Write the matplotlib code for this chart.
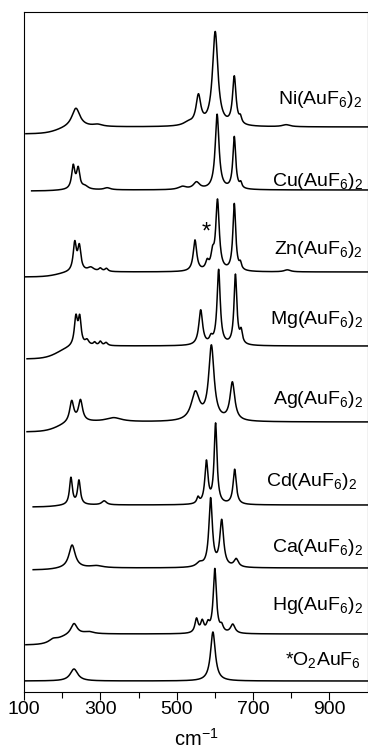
import numpy as np
import matplotlib
matplotlib.use("Agg")
import matplotlib.pyplot as plt

plt.rcParams['font.family'] = ['Liberation Sans', 'DejaVu Sans']
plt.rcParams['mathtext.fontset'] = 'custom'
plt.rcParams['mathtext.rm'] = 'Liberation Sans'
plt.rcParams['mathtext.it'] = 'Liberation Sans:italic'

# Raman bands: (wavenumber cm-1, height, FWHM)
ni_bands = [(236, 19, 26), (293, 2, 30), (530, 3, 30), (557, 29, 15), (601, 94, 17),
            (651, 48, 11), (667, 6, 8), (787, 2, 25)]
cu_bands = [(229, 23, 10), (242, 20, 10), (260, 3, 20), (318, 2, 20), (515, 3, 25),
            (552, 7, 20), (606, 75, 12), (651, 52, 9), (668, 5, 7)]
zn_bands = [(233, 28, 10), (245, 24, 10), (275, 4, 20), (300, 3, 10), (316, 3, 10),
            (548, 31, 11), (580, 8, 10), (594, 14, 10), (607, 70, 11), (651, 67, 9),
            (667, 6, 7), (790, 2, 20)]
mg_bands = [(236, 28, 10), (246, 26, 9), (265, 5, 12), (285, 3, 8), (300, 4, 8),
            (315, 3, 10), (563, 35, 12), (590, 6, 10), (610, 75, 10), (654, 70, 9),
            (669, 12, 8)]
ag_bands = [(225, 21, 13), (248, 21, 13), (335, 4, 50), (549, 28, 26), (591, 74, 17),
            (646, 38, 15)]
cd_bands = [(223, 27, 9), (244, 24, 9), (310, 4, 15), (556, 6, 8), (578, 42, 10),
            (602, 80, 9), (652, 35, 10)]
ca_bands = [(226, 23, 20), (290, 2, 40), (560, 4, 20), (589, 68, 11), (618, 46, 12),
            (656, 8, 14)]
hg_bands = [(176, 3, 25), (231, 11, 20), (270, 2, 30), (552, 14, 10), (567, 11, 10),
            (582, 8, 10), (600, 64, 10), (618, 6, 10), (647, 9, 14)]
o2_bands = [(231, 12, 24), (595, 49, 15)]

all_bands = [ni_bands, cu_bands, zn_bands, mg_bands, ag_bands, cd_bands, ca_bands,
             hg_bands, o2_bands]
labels = ['Ni(AuF$_6$)$_2$', 'Cu(AuF$_6$)$_2$', 'Zn(AuF$_6$)$_2$', 'Mg(AuF$_6$)$_2$',
          'Ag(AuF$_6$)$_2$', 'Cd(AuF$_6$)$_2$', 'Ca(AuF$_6$)$_2$', 'Hg(AuF$_6$)$_2$',
          '*O$_2$AuF$_6$']
offsets = [565, 502, 420, 346, 270, 187, 124, 58, 11]   # vertical stacking
left_drop = [7, 1, 5, 13, 10, 2, 2, 11, 0]              # sagging background at low cm-1
x_start = [105, 120, 100, 108, 108, 124, 124, 105, 100]
label_x = [988, 988, 988, 988, 988, 972, 988, 988, 983]
label_y = [592, 510, 442, 373, 292, 210, 145, 87, 32]


def spectrum(x, bands, base, drop):
    y = base - drop * 0.5 * (1 - np.tanh((x - 190) / 35.0))
    for c, h, w in bands:
        y = y + h / (1 + ((x - c) / (w / 2.0)) ** 2)
    return y


fig = plt.figure(figsize=(3.68, 7.54), dpi=100)
ax = fig.add_axes([24 / 368, 62 / 754, 343.5 / 368, 680 / 754])

for bands, base, drop, xs, lab, lx, ly in zip(all_bands, offsets, left_drop, x_start,
                                              labels, label_x, label_y):
    x = np.arange(xs, 1000.5, 0.5)
    ax.plot(x, spectrum(x, bands, base, drop), color='black', lw=1.1)
    ax.text(lx, ly, lab, ha='right', va='center', fontsize=14)

# impurity marker on the Zn spectrum
ax.text(578, 459, '*', ha='center', va='center', fontsize=17)

ax.set_xlim(100, 1000)
ax.set_ylim(0, 680)
ax.set_yticks([])
ax.set_xticks([100, 300, 500, 700, 900])
ax.set_xticks([200, 400, 600, 800], minor=True)
ax.tick_params(axis='x', which='major', direction='out', length=5.5, width=0.8,
               labelsize=14, pad=1)
ax.tick_params(axis='x', which='minor', direction='out', length=4.5, width=0.8)
for s in ax.spines.values():
    s.set_linewidth(0.8)
ax.set_xlabel('cm$^{-1}$', fontsize=14.5, labelpad=7)

fig.savefig('out.png', dpi=100)
